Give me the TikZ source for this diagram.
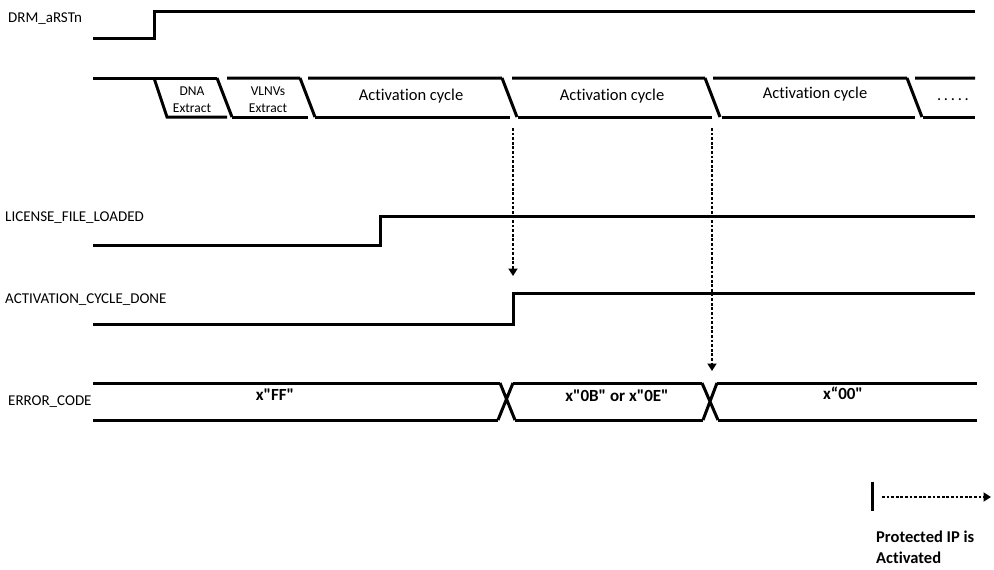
\documentclass[tikz,border=0pt]{standalone}
\usepackage{fontspec}
% no TeX quote mapping and no common ligatures: straight quotes, plain "ti"
\setmainfont{Carlito}[Ligatures={ResetAll}]
\newfontfamily\plainfont{Carlito}[Ligatures={NoCommon}]
\usetikzlibrary{arrows.meta}
\begin{document}
\begin{tikzpicture}[x=1pt,y=-1pt,
  wave/.style={line width=3pt},
  cue/.style={line width=2.7pt, dash pattern=on 2.7pt off 1.9pt,
    -{Triangle[width=9pt,length=7.5pt]}},
  siglabel/.style={anchor=base west, inner sep=0pt, font=\plainfont\fontsize{15}{17}\selectfont},
  phase/.style={anchor=base, inner sep=0pt, font=\plainfont\fontsize{16.5}{18}\selectfont},
  small/.style={anchor=base, inner sep=0pt, font=\plainfont\fontsize{13.5}{15}\selectfont},
  value/.style={anchor=base, inner sep=0pt, font=\plainfont\fontsize{17}{19}\selectfont\bfseries},
  note/.style={anchor=base west, inner sep=0pt, font=\plainfont\fontsize{16.5}{19}\selectfont\bfseries}]
\useasboundingbox (0,0) rectangle (994,570);

% signal names
\node[siglabel] (nrst) at (8,22) {DRM\_aRSTn};
\node[siglabel] (nlic) at (5,221) {LICENSE\_FILE\_LOADED};
\node[siglabel] (nact) at (5,303) {ACTIVATION\_CYCLE\_DONE};
\node[siglabel] (nerr) at (8,405) {ERROR\_CODE};

% DRM_aRSTn
\draw[wave] (93,38) -- (154,38) -- (154,11) -- (975,11);

% phase bus
\draw[wave] (93,78) -- (217,78);
\draw[wave] (154,78) -- (167,117) -- (227,117);
\foreach \b/\t/\e in {217/227/300, 300/308/502, 502/512/705, 705/713/907, 907/915/975}
  \draw[wave] (\b,78) -- ({\b+15},117) (\t,78) -- (\e,78);
\foreach \s/\e in {232/308, 315/510, 518/712, 722/915, 923/975}
  \draw[wave] (\s,117) -- (\e,117);

\node[small] (dna1) at (192,95) {DNA};
\node[small] (dna2) at (192,112) {Extract};
\node[small] (vl1) at (268,95) {VLNVs};
\node[small] (vl2) at (268,112) {Extract};
\node[phase] (ac1) at (411,100) {Activation cycle};
\node[phase] (ac2) at (612,100) {Activation cycle};
\node[phase] (ac3) at (815,98) {Activation cycle};
\node[phase] (more) at (953,100) {.\,.\,.\,.\,.};

% LICENSE_FILE_LOADED
\draw[wave] (93,245) -- (380,245) -- (380,216) -- (975,216);

% ACTIVATION_CYCLE_DONE
\draw[wave] (93,324) -- (513,324) -- (513,293) -- (975,293);

% ERROR_CODE bus
\draw[wave] (93,383) -- (500,383) (93,420) -- (498,420);
\draw[wave] (500,383) -- (515,420) (513,383) -- (498,420);
\draw[wave] (513,383) -- (702,383) (515,420) -- (703,420);
\draw[wave] (702,383) -- (718,420) (717,383) -- (703,420);
\draw[wave] (717,383) -- (977,383) (718,420) -- (977,420);

\node[value] (vff) at (275,400) {x"FF"};
\node[value] (vob) at (617,401) {x"0B" or x"0E"};
\node[value] (v00) at (843,399) {x“00"};

% cause markers
\coordinate (c1s) at (513,128);
\coordinate (c1e) at (513,276);
\coordinate (c2s) at (712,128);
\coordinate (c2e) at (712,371);
\draw[cue] (c1s) -- (c1e);
\draw[cue] (c2s) -- (c2e);

% legend
\coordinate (lt) at (872,482);
\coordinate (lb) at (872,511);
\coordinate (ls) at (882,497);
\coordinate (le) at (991,497);
\draw[wave] (lt) -- (lb);
\draw[cue] (ls) -- (le);
\node[note] (leg1) at (876,542) {Protected IP is};
\node[note] (leg2) at (876,563) {Activated};
\end{tikzpicture}
\end{document}
